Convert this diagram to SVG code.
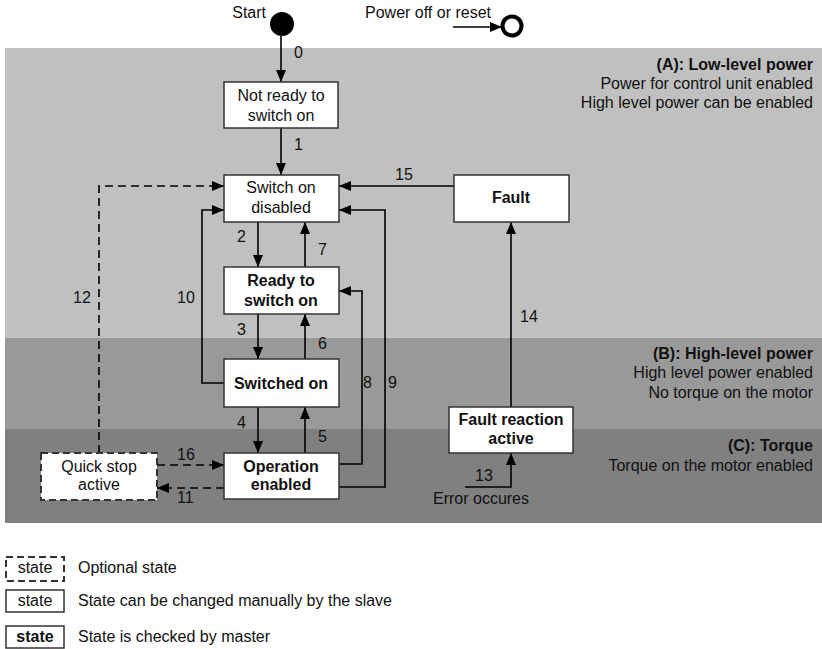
<svg xmlns="http://www.w3.org/2000/svg" width="822" height="649" viewBox="0 0 822 649">
<style>
text{font-family:"Liberation Sans",Arial,sans-serif;font-size:16px;fill:#111}
.b{font-weight:bold}
.m{text-anchor:middle}
.r{text-anchor:end}
.box{fill:#fff;stroke:#333;stroke-width:1.5}
.opt{fill:#fff;stroke:#333;stroke-width:2;stroke-dasharray:7 4}
.c{fill:none;stroke:#000;stroke-width:1.6;marker-end:url(#ah)}
.d{stroke-dasharray:8 5}
</style>
<defs>
<marker id="ah" markerUnits="userSpaceOnUse" markerWidth="12" markerHeight="10" refX="12" refY="5" orient="auto">
<path d="M0,0 L12,5 L0,10 z" fill="#000"/>
</marker>
</defs>
<rect width="822" height="649" fill="#fff"/>
<g id="bands">
<rect x="5" y="48" width="817" height="290" fill="#c0c0c0"/>
<rect x="5" y="338" width="817" height="91" fill="#999999"/>
<rect x="5" y="429" width="817" height="94" fill="#808080"/>
</g>
<g id="zone-text">
<text x="813" y="70" class="b r">(A): Low-level power</text>
<text x="813" y="89" class="r">Power for control unit enabled</text>
<text x="813" y="108" class="r">High level power can be enabled</text>
<text x="813" y="359" class="b r">(B): High-level power</text>
<text x="813" y="378" class="r">High level power enabled</text>
<text x="813" y="398" class="r">No torque on the motor</text>
<text x="813" y="451" class="b r">(C): Torque</text>
<text x="813" y="471" class="r">Torque on the motor enabled</text>
</g>
<g id="start">
<circle cx="282" cy="24" r="12" fill="#000"/>
<text x="266" y="18" class="r">Start</text>
</g>
<g id="power-off">
<text x="365" y="18">Power off or reset</text>
<circle cx="512" cy="26" r="9.5" fill="#fff" stroke="#000" stroke-width="4"/>
</g>
<g id="connectors">
<path class="c" d="M281,36 V82"/>
<path class="c" d="M281,128 V175"/>
<path class="c" d="M454,186 H339"/>
<path class="c d" d="M99,453 V186 H224"/>
<path class="c" d="M224,383 H202 V210 H224"/>
<path class="c" d="M258,222 V267"/>
<path class="c" d="M305,267 V222"/>
<path class="c" d="M258,314 V359"/>
<path class="c" d="M305,359 V314"/>
<path class="c" d="M258,407 V453"/>
<path class="c" d="M305,453 V407"/>
<path class="c" d="M339,464 H362 V291 H339"/>
<path class="c" d="M339,487 H385 V210 H339"/>
<path class="c d" d="M157,465 H224"/>
<path class="c d" d="M224,488 H157"/>
<path class="c" d="M511,407 V222"/>
<path class="c" d="M465,487 H511 V453"/>
<path class="c" d="M453,27 H502"/>
</g>
<g id="labels">
<text x="294" y="58">0</text>
<text x="294" y="150">1</text>
<text x="395" y="180">15</text>
<text x="73" y="303">12</text>
<text x="177" y="303">10</text>
<text x="237" y="242">2</text>
<text x="318" y="255">7</text>
<text x="237" y="335">3</text>
<text x="318" y="349">6</text>
<text x="237" y="428">4</text>
<text x="318" y="442">5</text>
<text x="363" y="388">8</text>
<text x="388" y="388">9</text>
<text x="177" y="460">16</text>
<text x="177" y="503">11</text>
<text x="520" y="322">14</text>
<text x="475" y="481">13</text>
<text x="481" y="504" class="m">Error occures</text>
</g>
<g id="not-ready">
<rect class="box" x="224" y="82" width="114" height="46"/>
<text x="281" y="101" class="m">Not ready to</text>
<text x="281" y="121" class="m">switch on</text>
</g>
<g id="switch-on-disabled">
<rect class="box" x="224" y="175" width="115" height="47"/>
<text x="281" y="193" class="m">Switch on</text>
<text x="281" y="213" class="m">disabled</text>
</g>
<g id="ready-to-switch-on">
<rect class="box" x="224" y="267" width="115" height="47"/>
<text x="281" y="286" class="m b">Ready to</text>
<text x="281" y="306" class="m b">switch on</text>
</g>
<g id="switched-on">
<rect class="box" x="224" y="359" width="115" height="48"/>
<text x="281" y="389" class="m b">Switched on</text>
</g>
<g id="operation-enabled">
<rect class="box" x="224" y="453" width="115" height="46"/>
<text x="281" y="472" class="m b">Operation</text>
<text x="281" y="490" class="m b">enabled</text>
</g>
<g id="quick-stop">
<rect class="opt" x="41" y="453" width="116" height="47"/>
<text x="99" y="472" class="m">Quick stop</text>
<text x="99" y="490" class="m">active</text>
</g>
<g id="fault">
<rect class="box" x="454" y="175" width="115" height="47"/>
<text x="511" y="203" class="m b">Fault</text>
</g>
<g id="fault-reaction">
<rect class="box" x="449" y="407" width="124" height="46"/>
<text x="511" y="425" class="m b">Fault reaction</text>
<text x="511" y="444" class="m b">active</text>
</g>
<g id="legend">
<rect class="opt" x="6" y="557" width="58" height="24" stroke-width="1.6"/>
<text x="35" y="573" class="m">state</text>
<text x="78" y="573">Optional state</text>
<rect class="box" x="6" y="590" width="58" height="22"/>
<text x="35" y="606" class="m">state</text>
<text x="78" y="606">State can be changed manually by the slave</text>
<rect class="box" x="6" y="626" width="58" height="22"/>
<text x="35" y="642" class="m b">state</text>
<text x="78" y="642">State is checked by master</text>
</g>
</svg>
